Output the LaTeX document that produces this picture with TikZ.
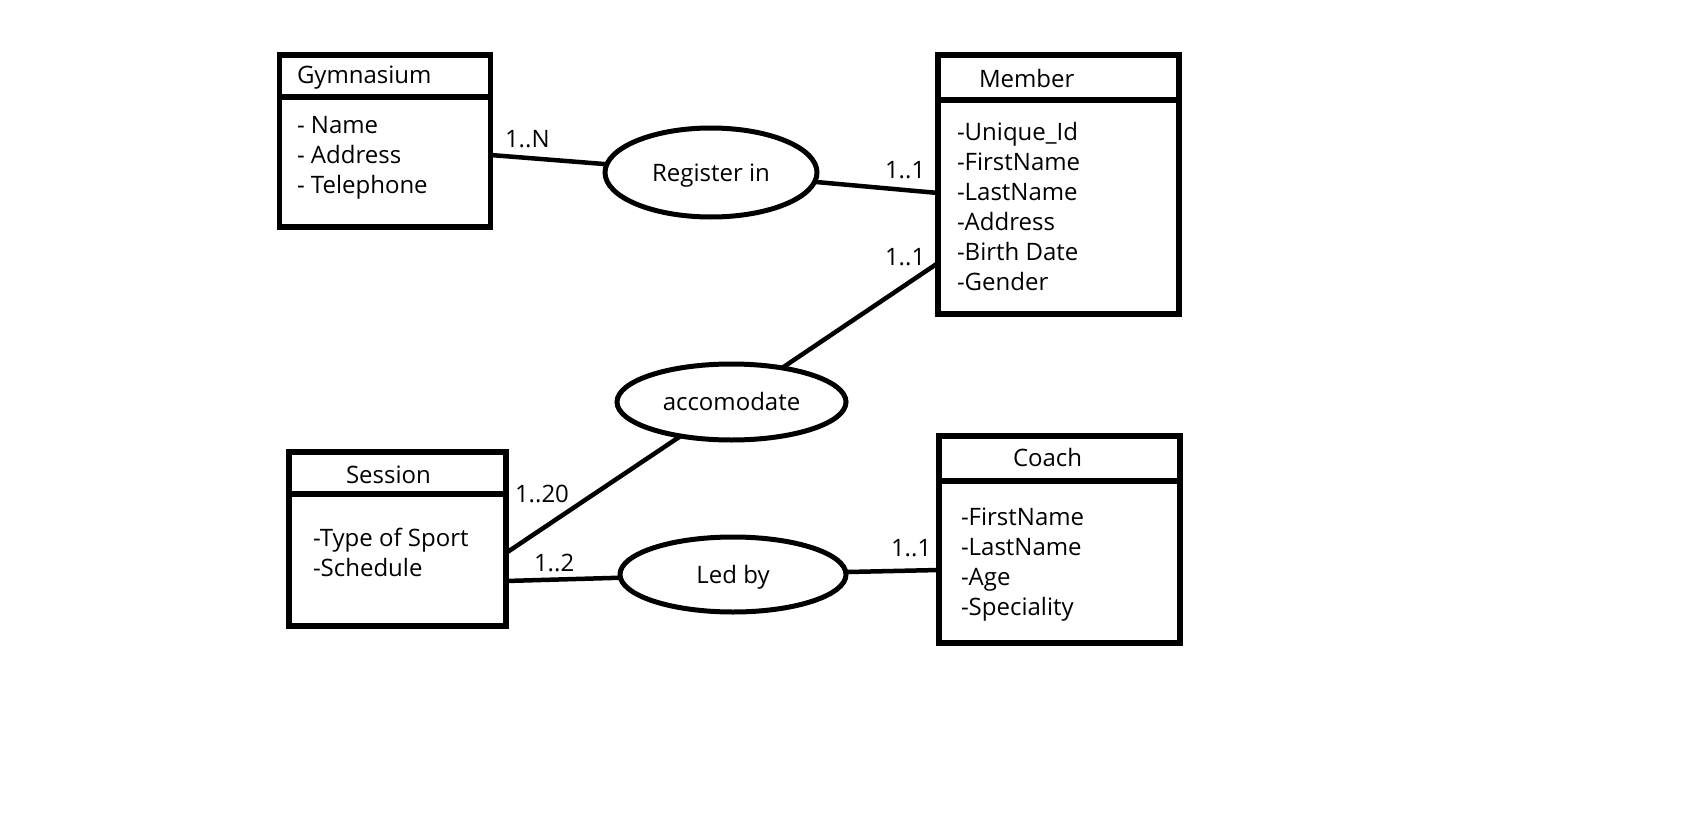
\documentclass[tikz,border=0pt]{standalone}
\usepackage{fontspec}
\setmainfont{Open Sans}
\usetikzlibrary{shapes.geometric}
\begin{document}
\begin{tikzpicture}[x=1pt,y=-1pt,
  font=\fontsize{24pt}{30pt}\selectfont,
  entity/.style={draw, rectangle, inner sep=0pt, outer sep=0pt, line width=5.5pt},
  rel/.style={draw, ellipse, inner sep=0pt, outer sep=0pt, line width=5pt, text height=17pt, text depth=0pt},
  txt/.style={anchor=base west, inner sep=0pt, outer sep=0pt},
  conn/.style={line width=4.5pt},
  divider/.style={line width=6pt}]
\fill[white] (0,0) rectangle (1697,816);
\useasboundingbox (0,0) rectangle (1697,816);

% entities
\node[entity, minimum width=211pt, minimum height=172pt] (gym) at (385,141) {};
\node[entity, minimum width=241pt, minimum height=259pt] (member) at (1058.5,184.5) {};
\node[entity, minimum width=217pt, minimum height=174pt] (session) at (397.5,539) {};
\node[entity, minimum width=241pt, minimum height=207pt] (coach) at (1059.5,539.5) {};

\draw[divider] ([yshift=-41.5pt]gym.north west) -- ([yshift=-41.5pt]gym.north east);
\draw[divider] ([yshift=-45pt]member.north west) -- ([yshift=-45pt]member.north east);
\draw[divider] ([yshift=-42pt]session.north west) -- ([yshift=-42pt]session.north east);
\draw[divider] ([yshift=-45pt]coach.north west) -- ([yshift=-45pt]coach.north east);

% titles
\node[txt] (gymT) at (297,84) {Gymnasium};
\node[txt] (memT) at (979,87) {Member};
\node[txt] (sesT) at (346,483) {Session};
\node[txt] (coaT) at (1013,466) {Coach};

% attributes
\node[txt] (g1) at (297,133) {- Name};
\node[txt] (g2) at (297,163) {- Address};
\node[txt] (g3) at (297,193) {- Telephone};

\node[txt] (m1) at (957,140) {-Unique\_Id};
\node[txt] (m2) at (957,170) {-FirstName};
\node[txt] (m3) at (957,200) {-LastName};
\node[txt] (m4) at (957,230) {-Address};
\node[txt] (m5) at (957,260) {-Birth Date};
\node[txt] (m6) at (957,290) {-Gender};

\node[txt] (s1) at (313,546) {-Type of Sport};
\node[txt] (s2) at (313,576) {-Schedule};

\node[txt] (c1) at (961,525) {-FirstName};
\node[txt] (c2) at (961,555) {-LastName};
\node[txt] (c3) at (961,585) {-Age};
\node[txt] (c4) at (961,615) {-Speciality};

% relationships
\node[rel, minimum width=212pt, minimum height=89pt] (reg) at (711,172.5) {Register in};
\node[rel, minimum width=229pt, minimum height=76pt] (acc) at (731.5,402) {accomodate};
\node[rel, minimum width=226pt, minimum height=75pt] (led) at (733,574.5) {Led by};

% connectors
\draw[conn] ([yshift=-14pt]gym.east) -- (reg);
\draw[conn] (reg) -- ([yshift=-8.5pt]member.west);
\draw[conn] (acc) -- ([yshift=-78.5pt]member.west);
\draw[conn] ([yshift=-14pt]session.east) -- (acc);
\draw[conn] ([yshift=-42pt]session.east) -- (led);
\draw[conn] (led) -- ([yshift=-30.5pt]coach.west);

% cardinalities
\node[txt] (l1) at (505,147) {1..N};
\node[txt] (l2) at (885,178) {1..1};
\node[txt] (l3) at (885,265) {1..1};
\node[txt] (l4) at (515,502) {1..20};
\node[txt] (l5) at (534,571) {1..2};
\node[txt] (l6) at (891,556) {1..1};
\end{tikzpicture}
\end{document}
